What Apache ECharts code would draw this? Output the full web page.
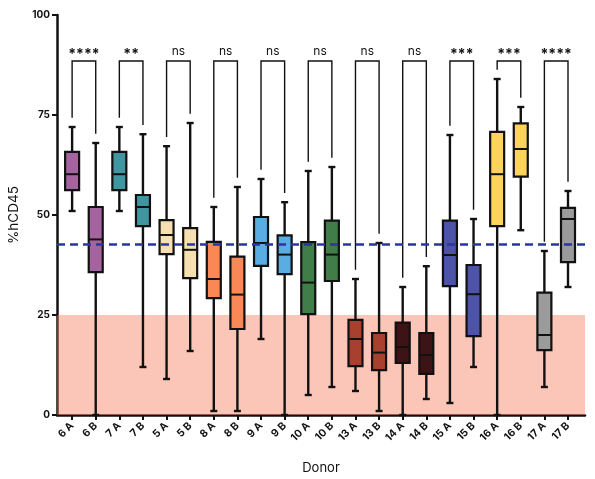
<!DOCTYPE html>
<html>
<head>
<meta charset="utf-8">
<script src="https://cdn.jsdelivr.net/npm/echarts@6/dist/echarts.min.js"></script>
<style>
  html, body { margin: 0; padding: 0; background: #fff; }
  #chart { width: 595px; height: 479px; }
</style>
</head>
<body>
<div id="chart"></div>
<script>
// 数据
const donors = ['6 A', '6 B', '7 A', '7 B', '5 A', '5 B', '8 A', '8 B', '9 A', '9 B', '10 A', '10 B',
                '13 A', '13 B', '14 A', '14 B', '15 A', '15 B', '16 A', '16 B', '17 A', '17 B'];
const boxMin    = [51, 0, 51, 12, 9, 16, 1, 1, 19, 0, 5, 7, 6, 1, 0, 4, 3, 12, 0, 46.2, 7, 32];
const boxQ1     = [56.2, 35.7, 56.2, 47.2, 40.2, 34.2, 29.2, 21.5, 37.3, 35.2, 25.2, 33.5, 12.2, 11.2, 13, 10.3, 32.2, 19.7, 47.2, 59.6, 16.2, 38.2];
const boxMedian = [60.2, 43.9, 60.2, 52, 45, 41.3, 34, 30.1, 43, 40.1, 33.1, 40.1, 19, 15.6, 17, 15, 40, 30.2, 60.2, 66.5, 20, 49];
const boxQ3     = [65.8, 52, 65.8, 55, 48.7, 46.7, 43.3, 39.6, 49.5, 44.9, 43.2, 48.6, 23.8, 20.5, 23.1, 20.5, 48.6, 37.5, 70.8, 72.9, 30.6, 51.8];
const boxMax    = [72, 68, 72, 70.2, 67.2, 73, 52, 57, 59, 53.2, 61, 62, 34, 43, 32, 37.2, 70, 49, 84, 77, 41, 56];

const sigPairs  = [[0, 1], [2, 3], [4, 5], [6, 7], [8, 9], [10, 11], [12, 13], [14, 15], [16, 17], [18, 19], [20, 21]];
const sigLabels = ['****', '**', 'ns', 'ns', 'ns', 'ns', 'ns', 'ns', '***', '***', '****'];
const bracketTop = 88.5;

const meanLine = 42.6;
const lowBand = [0, 25];
const yTicks = [0, 25, 50, 75, 100];

// 颜色（按供体）
const palette = ['#a5649f', '#a5649f', '#3f95a0', '#3f95a0', '#f6dfb1', '#f6dfb1', '#fa8856', '#fa8856',
                 '#5aade2', '#5aade2', '#407d49', '#407d49', '#a8402f', '#a8402f', '#3d1315', '#3d1315',
                 '#4c53a8', '#4c53a8', '#fdd35b', '#fdd35b', '#9b9b9b', '#9b9b9b'];

const boxData = donors.map((d, i) => [i, boxMin[i], boxQ1[i], boxMedian[i], boxQ3[i], boxMax[i]]);
const bracketData = sigPairs.map((p, i) => [p[0], p[1], bracketTop, boxMax[p[0]] + 2.3, boxMax[p[1]] + 2.3, sigLabels[i]]);

const chart = echarts.init(document.getElementById('chart'));
const FONT = 'Inter';
const idx = donors.map((d, i) => i);

function renderBox(params, api) {
    const x = api.value(0);
    const pMin = api.coord([x, api.value(1)]);
    const pQ1 = api.coord([x, api.value(2)]);
    const pMed = api.coord([x, api.value(3)]);
    const pQ3 = api.coord([x, api.value(4)]);
    const pMax = api.coord([x, api.value(5)]);
    const half = 7, cap = 3.5;
    const line = { stroke: '#111', lineWidth: 2.4 };
    return {
        type: 'group',
        children: [
            { type: 'line', shape: { x1: pMin[0], y1: pMin[1], x2: pQ1[0], y2: pQ1[1] }, style: line },
            { type: 'line', shape: { x1: pQ3[0], y1: pQ3[1], x2: pMax[0], y2: pMax[1] }, style: line },
            { type: 'line', shape: { x1: pMin[0] - cap, y1: pMin[1], x2: pMin[0] + cap, y2: pMin[1] }, style: { stroke: '#111', lineWidth: 2.4 } },
            { type: 'line', shape: { x1: pMax[0] - cap, y1: pMax[1], x2: pMax[0] + cap, y2: pMax[1] }, style: { stroke: '#111', lineWidth: 2.4 } },
            { type: 'rect', shape: { x: pQ3[0] - half, y: pQ3[1], width: half * 2, height: pQ1[1] - pQ3[1] },
              style: { fill: palette[params.dataIndex], stroke: '#111', lineWidth: 2.2 } },
            { type: 'line', shape: { x1: pMed[0] - half, y1: pMed[1], x2: pMed[0] + half, y2: pMed[1] }, style: { stroke: '#111', lineWidth: 2 } }
        ]
    };
}

function renderBracket(params, api) {
    const a = api.coord([api.value(0), api.value(2)]);
    const b = api.coord([api.value(1), api.value(2)]);
    const la = api.coord([api.value(0), api.value(3)]);
    const lb = api.coord([api.value(1), api.value(4)]);
    const txt = sigLabels[params.dataIndex];
    const isNs = txt === 'ns';
    return {
        type: 'group',
        children: [
            { type: 'polyline', shape: { points: [la, a, b, lb] }, style: { stroke: '#111', lineWidth: 1.4, fill: null } },
            { type: 'text', x: (a[0] + b[0]) / 2, y: a[1] - (isNs ? 10 : 6),
              style: { text: txt, fill: '#111', font: (isNs ? 'normal 12px ' : 'bold 14px ') + FONT, align: 'center', verticalAlign: 'middle' } }
        ]
    };
}

const option = {
    backgroundColor: '#fff',
    animation: false,
    grid: { left: 57, right: 10, top: 15, bottom: 64, containLabel: false, outerBoundsMode: 'none' },
    xAxis: {
        type: 'value',
        min: -0.64,
        max: 21.72,
        name: 'Donor',
        nameLocation: 'middle',
        nameGap: 47,
        nameTextStyle: { fontFamily: FONT, fontSize: 13, color: '#111' },
        axisLine: { show: true, onZero: false, lineStyle: { color: '#111', width: 2.5 } },
        axisTick: { show: true, customValues: idx, length: 5, lineStyle: { color: '#111', width: 2 } },
        axisLabel: {
            customValues: idx,
            formatter: v => donors[Math.round(v)] || '',
            rotate: 45,
            margin: 9,
            fontFamily: FONT,
            fontSize: 10.5,
            fontWeight: 'bold',
            color: '#111'
        },
        splitLine: { show: false }
    },
    yAxis: {
        type: 'value',
        min: 0,
        max: 100,
        interval: 25,
        name: '%hCD45',
        nameLocation: 'middle',
        nameGap: 32,
        nameTextStyle: { fontFamily: FONT, fontSize: 13.5, color: '#111' },
        axisLine: { show: true, onZero: false, lineStyle: { color: '#111', width: 2.5 } },
        axisTick: { show: true, length: 5, lineStyle: { color: '#111', width: 2 } },
        axisLabel: { fontFamily: FONT, fontSize: 10, fontWeight: 'bold', color: '#111', margin: 7,
                     formatter: v => yTicks.includes(v) ? String(v) : '' },
        splitLine: { show: false }
    },
    series: [
        {
            type: 'custom',
            name: 'box',
            renderItem: renderBox,
            data: boxData,
            encode: { x: 0, y: [1, 2, 3, 4, 5] },
            clip: false,
            z: 2
        },
        {
            type: 'custom',
            name: 'sig',
            renderItem: renderBracket,
            data: bracketData,
            encode: { x: [0, 1], y: [2, 3, 4] },
            clip: false,
            z: 3
        },
        {
            type: 'line',
            name: 'ref',
            data: [],
            z: 5,
            markArea: {
                silent: true,
                itemStyle: { color: 'rgba(245, 120, 85, 0.42)' },
                data: [[{ yAxis: lowBand[0] }, { yAxis: lowBand[1] }]]
            },
            markLine: {
                silent: true,
                symbol: 'none',
                label: { show: false },
                lineStyle: { color: '#2a35a3', width: 2.6, type: [8, 5] },
                data: [{ yAxis: meanLine }]
            }
        }
    ]
};

chart.setOption(option);
</script>
</body>
</html>
